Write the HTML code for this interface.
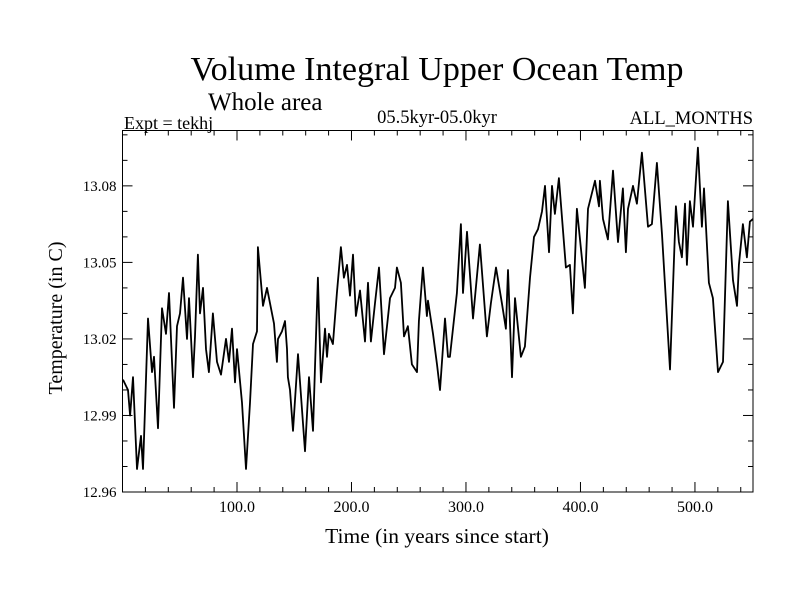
<!DOCTYPE html>
<html><head><meta charset="utf-8"><style>
html,body{margin:0;padding:0;background:#fff;}
svg{display:block;font-family:"Liberation Serif",serif;}
</style></head><body>
<svg id="chart" width="800" height="600">
<text x="437" y="80" font-size="34" text-anchor="middle">Volume Integral Upper Ocean Temp</text>
<text x="208" y="110" font-size="25">Whole area</text>
<text x="124" y="129" font-size="18">Expt = tekhj</text>
<text x="437" y="123" font-size="18.5" text-anchor="middle">05.5kyr-05.0kyr</text>
<text x="753" y="124" font-size="18.5" text-anchor="end">ALL_MONTHS</text>
<text x="437" y="543" font-size="21.5" text-anchor="middle">Time (in years since start)</text>
<text transform="translate(62,318) rotate(-90)" font-size="20" text-anchor="middle">Temperature (in C)</text>
<g id="axes"></g>
<rect x="122.5" y="130.5" width="630.5" height="361.5" fill="none" stroke="#000" stroke-width="1"/>
</svg>
<script>
const years=[0.4,4.8,6.6,9.2,12.7,16.2,17.9,22.3,25.8,27.5,31.0,34.5,38.0,40.6,45.0,47.6,50.2,52.8,56.3,58.1,61.6,63.3,65.9,67.7,70.3,72.9,75.5,79.0,82.5,86.0,90.4,93.0,95.6,98.3,100.0,104.4,107.9,111.4,114.0,117.5,118.3,121.8,122.7,126.2,130.6,132.3,134.9,135.8,139.3,141.9,143.7,144.5,146.3,148.9,153.3,159.4,162.9,166.4,168.1,170.7,173.4,176.9,178.6,180.3,183.8,187.3,190.8,193.4,196.1,198.7,201.3,203.9,207.4,211.8,214.4,217.0,220.5,224.0,228.4,233.6,238.0,239.7,243.2,245.9,249.3,252.8,257.2,258.9,262.4,265.9,266.8,271.2,274.7,277.3,281.7,284.3,286.0,292.1,295.6,297.4,300.9,306.1,312.2,318.3,321.8,326.2,331.4,334.9,336.7,340.2,342.8,348.0,351.5,355.9,359.4,362.9,366.4,369.0,372.5,375.1,377.7,381.2,387.3,390.8,393.4,396.9,403.9,406.6,412.7,416.2,417.0,419.7,424.0,428.4,432.8,437.1,439.7,441.5,445.9,449.3,453.7,459.0,462.4,466.8,471.2,478.2,483.4,486.0,488.6,491.3,493.0,495.6,498.3,502.6,506.1,507.9,512.2,515.7,520.1,524.5,528.8,533.2,536.7,538.4,541.9,545.4,548.0,550.7];
const temps=[13.004,13.000,12.990,13.005,12.969,12.982,12.969,13.028,13.007,13.013,12.985,13.032,13.022,13.038,12.993,13.025,13.030,13.044,13.020,13.036,13.005,13.021,13.053,13.030,13.040,13.016,13.007,13.030,13.011,13.006,13.020,13.011,13.024,13.003,13.016,12.995,12.969,12.995,13.018,13.023,13.056,13.038,13.033,13.040,13.030,13.026,13.011,13.020,13.023,13.027,13.016,13.005,13.000,12.984,13.014,12.976,13.005,12.984,13.009,13.044,13.003,13.024,13.013,13.022,13.018,13.038,13.056,13.044,13.049,13.037,13.053,13.029,13.039,13.019,13.042,13.019,13.034,13.048,13.014,13.036,13.040,13.048,13.042,13.021,13.025,13.010,13.007,13.027,13.048,13.029,13.035,13.022,13.010,13.000,13.028,13.013,13.013,13.038,13.065,13.038,13.062,13.028,13.057,13.021,13.034,13.048,13.034,13.024,13.047,13.005,13.036,13.013,13.017,13.044,13.060,13.063,13.070,13.080,13.054,13.080,13.069,13.083,13.048,13.049,13.030,13.071,13.040,13.071,13.082,13.072,13.082,13.067,13.059,13.086,13.058,13.079,13.054,13.071,13.080,13.073,13.093,13.064,13.065,13.089,13.061,13.008,13.072,13.058,13.052,13.073,13.049,13.074,13.064,13.095,13.064,13.079,13.042,13.036,13.007,13.011,13.074,13.043,13.033,13.049,13.065,13.052,13.066,13.067];
const xTicks=[100,200,300,400,500];
const xTickLabels=["100.0","200.0","300.0","400.0","500.0"];
const yTicks=[12.96,12.99,13.02,13.05,13.08];
const yTickLabels=["12.96","12.99","13.02","13.05","13.08"];
const X0=122.5,X1=753,Y0=492,Y1=130.5,xMin=0,xMax=550.7,yMin=12.96,yMax=13.1017;
function sx(v){return X0+(v-xMin)/(xMax-xMin)*(X1-X0);}
function sy(v){return Y0-(v-yMin)/(yMax-yMin)*(Y0-Y1);}
const NS="http://www.w3.org/2000/svg";
const g=document.getElementById('axes');
function mk(t,a){const e=document.createElementNS(NS,t);for(const k in a)e.setAttribute(k,a[k]);g.appendChild(e);return e;}
for(let v=20;v<xMax;v+=20){const x=sx(v);const major=v%100===0;const L=major?10:5;
 const t1=mk('line',{x1:x,x2:x,y1:Y0,y2:Y0-L,stroke:'#000'});
 
 
 const t2=mk('line',{x1:x,x2:x,y1:Y1,y2:Y1+L,stroke:'#000'});
 
 }
xTicks.forEach((v,i)=>{const t=mk('text',{x:sx(v),y:Y0+20,'font-size':16,'text-anchor':'middle'});t.textContent=xTickLabels[i];
 
 });
for(let k=0;k<=14;k++){const v=yMin+k*0.01;if(v>yMax)break;const y=sy(v);const major=k%3===0;const L=major?10:5;
 const t1=mk('line',{x1:X0,x2:X0+L,y1:y,y2:y,stroke:'#000'});
 
 
 const t2=mk('line',{x1:X1,x2:X1-L,y1:y,y2:y,stroke:'#000'});
 
 }
yTicks.forEach((v,i)=>{const t=mk('text',{x:X0-6,y:sy(v)+5,'font-size':15,'text-anchor':'end'});t.textContent=yTickLabels[i];
 
 });
const pts=years.map((y,i)=>sx(y).toFixed(1)+','+sy(temps[i]).toFixed(1)).join(' ');
const line=mk('polyline',{points:pts,fill:'none',stroke:'#000','stroke-width':1.8,'stroke-linejoin':'round'});


</script>
</body></html>
